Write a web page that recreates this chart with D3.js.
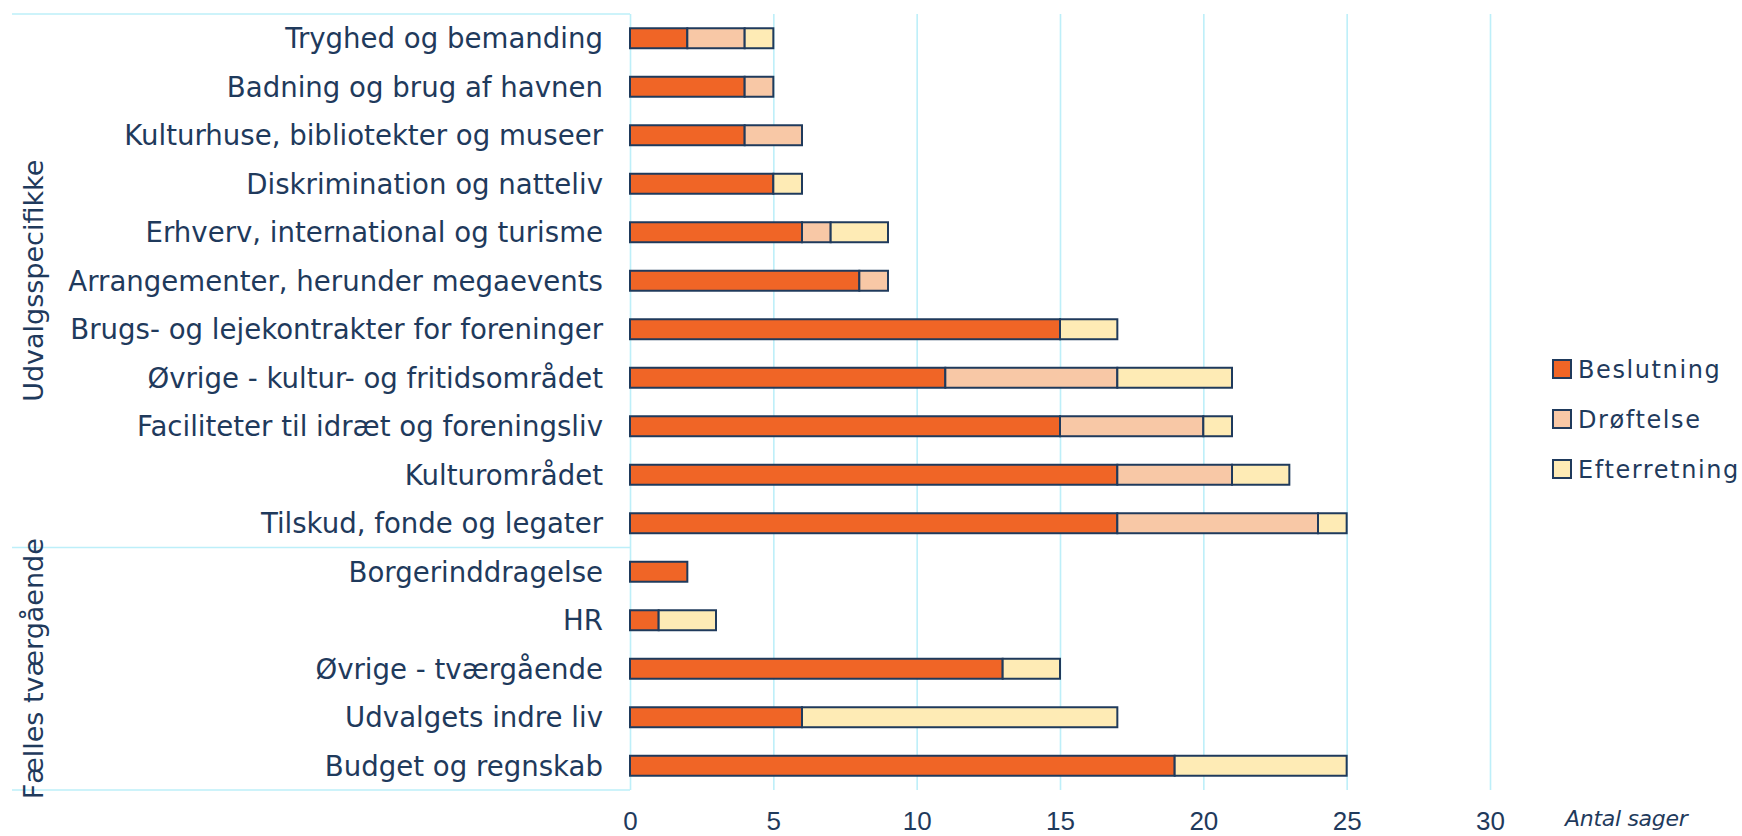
<!DOCTYPE html>
<html>
<head>
<meta charset="utf-8">
<script src="https://cdn.jsdelivr.net/npm/d3@7"></script>
<style>
  body { margin: 0; background: #ffffff; }
  svg { display: block; }
</style>
</head>
<body>
<div id="chart"></div>
<script>
// data (top to bottom)
const categories = [
  "Tryghed og bemanding",
  "Badning og brug af havnen",
  "Kulturhuse, bibliotekter og museer",
  "Diskrimination og natteliv",
  "Erhverv, international og turisme",
  "Arrangementer, herunder megaevents",
  "Brugs- og lejekontrakter for foreninger",
  "Øvrige - kultur- og fritidsområdet",
  "Faciliteter til idræt og foreningsliv",
  "Kulturområdet",
  "Tilskud, fonde og legater",
  "Borgerinddragelse",
  "HR",
  "Øvrige - tværgående",
  "Udvalgets indre liv",
  "Budget og regnskab"
];
const beslutning   = [2, 4, 4, 5, 6, 8, 15, 11, 15, 17, 17, 2, 1, 13, 6, 19];
const droftelse    = [2, 1, 2, 0, 1, 1, 0, 6, 5, 4, 7, 0, 0, 0, 0, 0];
const efterretning = [1, 0, 0, 1, 2, 0, 2, 4, 1, 2, 1, 0, 2, 2, 11, 6];

const seriesNames = ["Beslutning", "Drøftelse", "Efterretning"];
const groupNames = ["Udvalgsspecifikke", "Fælles tværgående"];
const groupSizes = [11, 5];
const xTicks = [0, 5, 10, 15, 20, 25, 30];
const xTitle = "Antal sager";

const width = 1742, height = 836;
const margin = { top: 14, bottom: 46, left: 630, right: 252 };
const navy = "#1f3a5c";
const gridColor = "#bdeff9";
const color = d3.scaleOrdinal()
  .domain(seriesNames)
  .range(["#f06526", "#f8c8a6", "#feebb5"]);

const rows = categories.map((c, i) => ({
  category: c,
  "Beslutning": beslutning[i],
  "Drøftelse": droftelse[i],
  "Efterretning": efterretning[i]
}));

const svg = d3.select("#chart")
  .append("svg")
  .attr("width", width)
  .attr("height", height)
  .style("font-family", "'DejaVu Sans', sans-serif");

const x = d3.scaleLinear()
  .domain([0, 30])
  .range([margin.left, width - margin.right]);

const y = d3.scaleBand()
  .domain(categories)
  .range([margin.top, height - margin.bottom])
  .paddingInner(0.588)
  .paddingOuter(0.294);

// gridlines + tick labels
const xAxis = svg.append("g")
  .attr("transform", `translate(0,${height - margin.bottom})`)
  .call(d3.axisBottom(x)
    .tickValues(xTicks)
    .tickSize(-(height - margin.bottom - margin.top))
    .tickFormat(d3.format("d")));

xAxis.select(".domain").remove();
xAxis.selectAll(".tick line")
  .attr("stroke", gridColor)
  .attr("stroke-width", 1.6);
xAxis.selectAll(".tick text")
  .attr("y", 40)
  .attr("dy", 0)
  .attr("fill", navy)
  .style("font-family", "'Liberation Sans', Arial, sans-serif")
  .style("font-size", "26px");

svg.append("text")
  .attr("x", 1565)
  .attr("y", 826)
  .attr("fill", navy)
  .style("font-size", "22px")
  .style("font-style", "italic")
  .style("letter-spacing", "-0.3px")
  .text(xTitle);

// group boxes on the category axis
const groupBounds = [];
let start = 0;
groupSizes.forEach((n, i) => {
  groupBounds.push({ name: groupNames[i], first: categories[start], last: categories[start + n - 1] });
  start += n;
});

const lineYs = [y.range()[0]].concat(groupBounds.map(g => y(g.last) + y.step() - y.step() * y.paddingInner() / 2));
svg.selectAll(".group-line")
  .data(lineYs)
  .enter().append("line")
  .attr("class", "group-line")
  .attr("x1", 12)
  .attr("x2", margin.left)
  .attr("y1", d => d)
  .attr("y2", d => d)
  .attr("stroke", gridColor)
  .attr("stroke-width", 1.6);

svg.selectAll(".group-label")
  .data(groupBounds)
  .enter().append("text")
  .attr("class", "group-label")
  .attr("transform", d => {
    const top = y(d.first) - y.step() * y.paddingInner() / 2;
    const bottom = y(d.last) + y.bandwidth() + y.step() * y.paddingInner() / 2;
    return `translate(43,${(top + bottom) / 2}) rotate(-90)`;
  })
  .attr("text-anchor", "middle")
  .attr("fill", navy)
  .style("font-size", "27px")
  .text(d => d.name);

// category labels
svg.selectAll(".cat-label")
  .data(categories)
  .enter().append("text")
  .attr("class", "cat-label")
  .attr("x", margin.left - 27)
  .attr("y", d => y(d) + y.bandwidth() / 2)
  .attr("dy", "0.36em")
  .attr("text-anchor", "end")
  .attr("fill", navy)
  .style("font-size", "27.6px")
  .text(d => d);

// stacked bars
const stacked = d3.stack().keys(seriesNames)(rows);

svg.selectAll(".series")
  .data(stacked)
  .enter().append("g")
  .attr("class", "series")
  .attr("fill", d => color(d.key))
  .selectAll("rect")
  .data(d => d.filter(s => s[1] - s[0] > 0))
  .enter().append("rect")
  .attr("x", d => x(d[0]))
  .attr("y", d => y(d.data.category))
  .attr("width", d => x(d[1]) - x(d[0]))
  .attr("height", y.bandwidth())
  .attr("stroke", navy)
  .attr("stroke-width", 2);

// legend
const legend = svg.selectAll(".legend")
  .data(seriesNames)
  .enter().append("g")
  .attr("class", "legend")
  .attr("transform", (d, i) => `translate(1553,${369 + i * 50})`);

legend.append("rect")
  .attr("x", 0)
  .attr("y", -9)
  .attr("width", 18)
  .attr("height", 18)
  .attr("fill", d => color(d))
  .attr("stroke", navy)
  .attr("stroke-width", 2);

legend.append("text")
  .attr("x", 25)
  .attr("y", 0)
  .attr("dy", "0.36em")
  .attr("fill", navy)
  .style("font-size", "24px")
  .style("letter-spacing", "1.6px")
  .text(d => d);
</script>
</body>
</html>
